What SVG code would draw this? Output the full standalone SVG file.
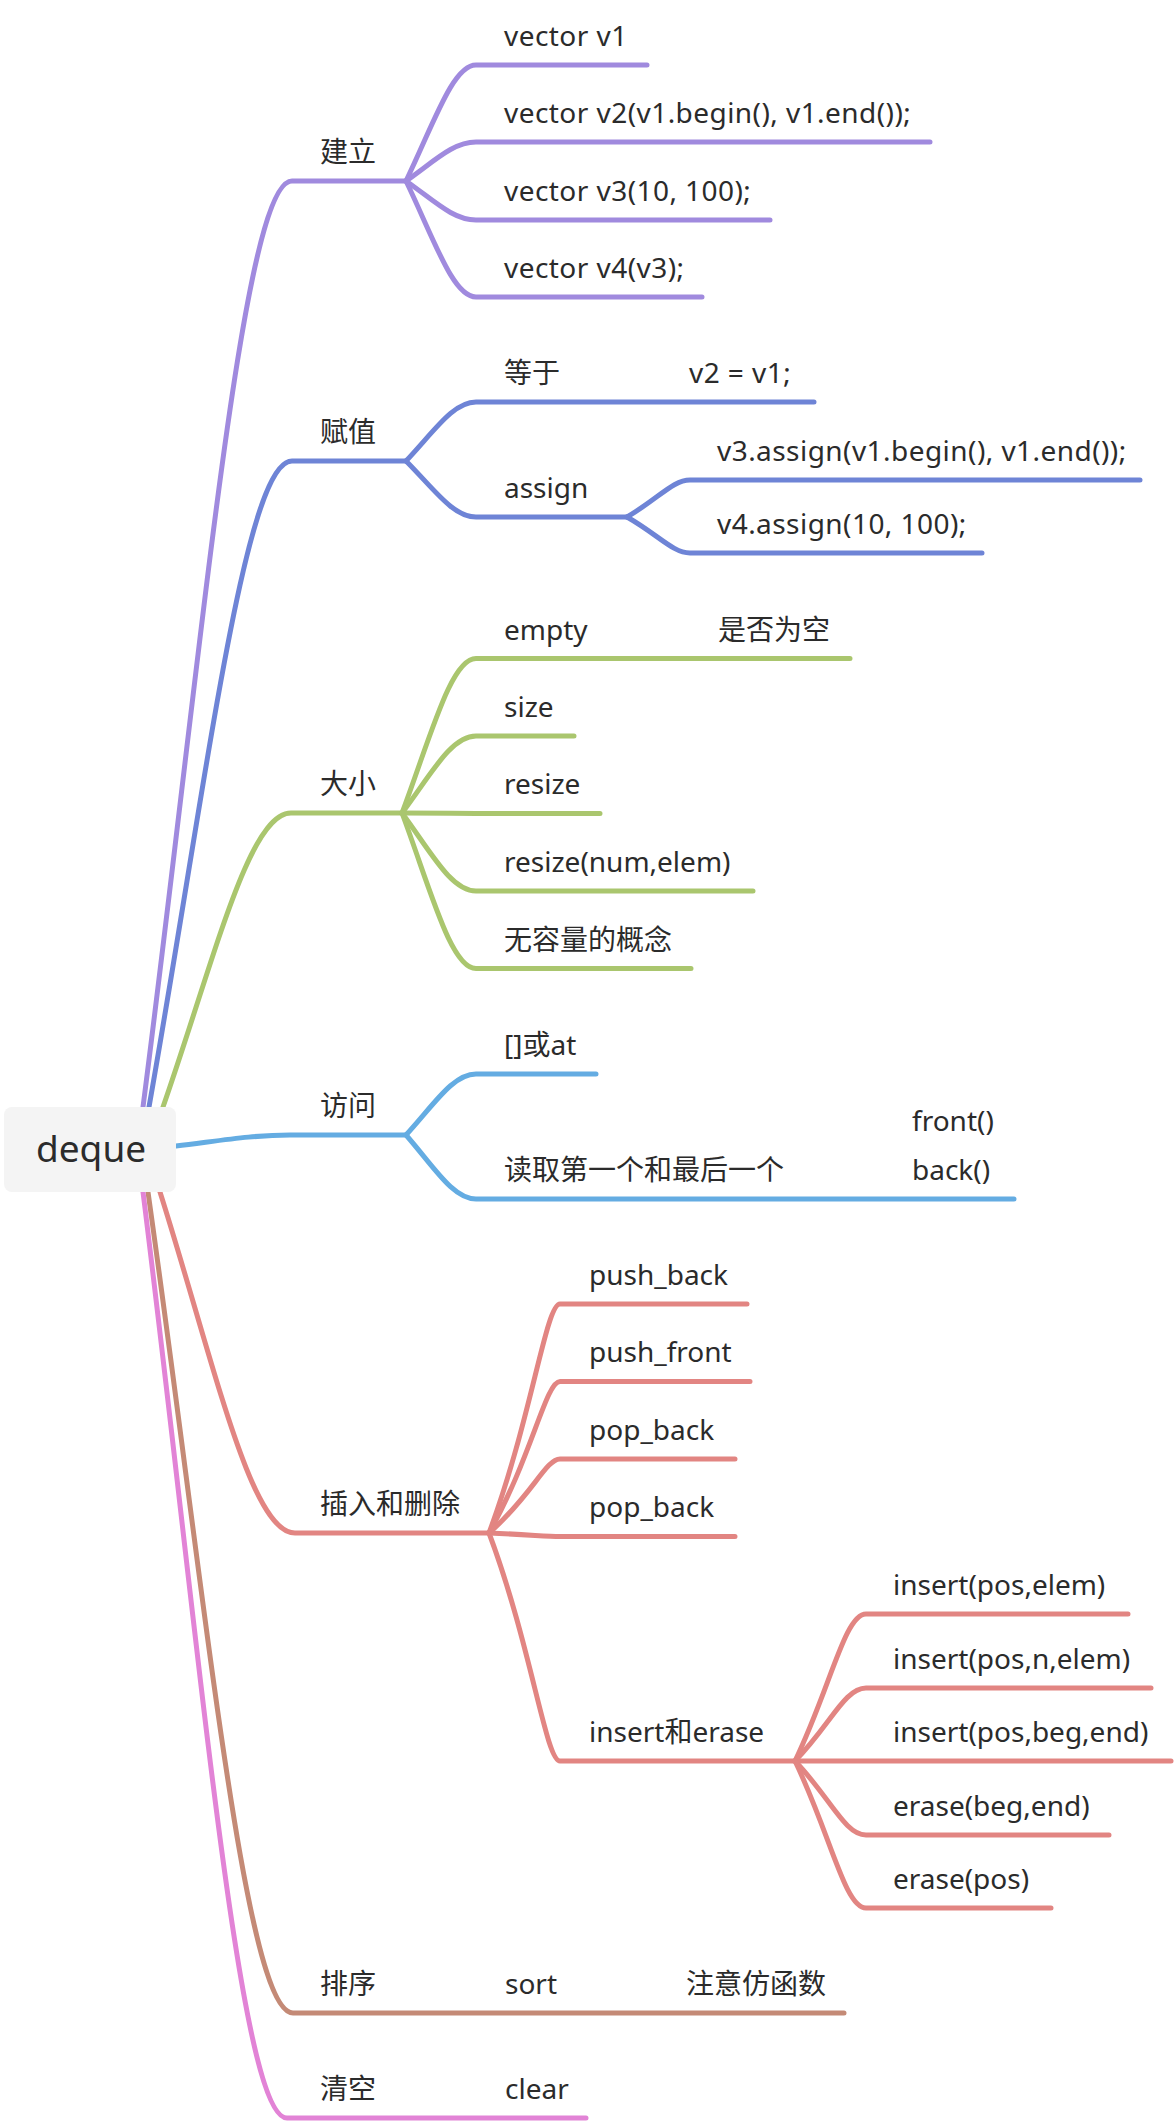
<svg xmlns="http://www.w3.org/2000/svg" width="1174" height="2126" viewBox="0 0 1174 2126">
<style>
.ln{fill:none;stroke-width:5;stroke-linecap:round;stroke-linejoin:round}
.a{stroke:#a08ade}.b{stroke:#6e84d6}.c{stroke:#aac66e}.d{stroke:#64ace2}.e{stroke:#e28582}.f{stroke:#c48a76}.g{stroke:#e283d6}
text{font-family:"Noto Sans","Noto Sans CJK SC",sans-serif;font-size:28px;fill:#2b2b2b}
.root{font-size:37px}
.ls{letter-spacing:0.45px}
</style>
<rect width="1174" height="2126" fill="#ffffff"/>
<g id="connectors">
<path class="ln a" d="M143,1107 C202.6,644 242.8,181 292,181 H406"/>
<path class="ln b" d="M149,1107 C206.2,784 244.8,461 292,461 H406"/>
<path class="ln c" d="M163,1107 C214.2,960 248.8,813 291,813 H402"/>
<path class="ln d" d="M176,1146 C221.6,1140.5 252.4,1135 290,1135 H406"/>
<path class="ln e" d="M160,1192 C214,1362.5 250.5,1533 295,1533 H489"/>
<path class="ln f" d="M148,1192 C206,1602.5 245.2,2013 293,2013 H844"/>
<path class="ln g" d="M143,1192 C200.6,1655 239.5,2118 287,2118 H586"/>

<path class="ln a" d="M406,181 C434,123 452.9,65 476,65 H647"/>
<path class="ln a" d="M406,181 C434,161.5 452.9,142 476,142 H930"/>
<path class="ln a" d="M406,181 C434,200.5 452.9,220 476,220 H770"/>
<path class="ln a" d="M406,181 C434,239 452.9,297 476,297 H702"/>

<path class="ln b" d="M406,461 C434,431.5 452.9,402 476,402 H814"/>
<path class="ln b" d="M406,461 C434,489 452.9,517 476,517 H627"/>
<path class="ln b" d="M627,517 C658.5,498.5 673.1,480 690,480 H1140"/>
<path class="ln b" d="M627,517 C658.5,535 673.1,553 690,553 H982"/>

<path class="ln c" d="M402,813 C431,735.75 451,658.5 476,658.5 H850"/>
<path class="ln c" d="M402,813 C431,774.5 451,736 476,736 H574"/>
<path class="ln c" d="M402,813 C431,813 451,813.5 476,813.5 H600"/>
<path class="ln c" d="M402,813 C431,852 451,891 476,891 H753"/>
<path class="ln c" d="M402,813 C431,890.75 451,968.5 476,968.5 H691"/>

<path class="ln d" d="M406,1135 C434,1104.5 452.9,1074 476,1074 H596"/>
<path class="ln d" d="M406,1135 C434,1167 452.9,1199 476,1199 H1014"/>

<path class="ln e" d="M489,1533 C531.6,1418.5 545.8,1304 560,1304 H747"/>
<path class="ln e" d="M489,1533 C531.6,1457.25 545.8,1381.5 560,1381.5 H750"/>
<path class="ln e" d="M489,1533 C531.6,1496 545.8,1459 560,1459 H735"/>
<path class="ln e" d="M489,1533 C531.6,1534.75 545.8,1536.5 560,1536.5 H735"/>
<path class="ln e" d="M489,1533 C531.6,1647 545.8,1761 560,1761 H795"/>

<path class="ln e" d="M795,1761 C830.5,1687.5 844.7,1614 866,1614 H1128"/>
<path class="ln e" d="M795,1761 C830.5,1724.5 844.7,1688 866,1688 H1151"/>
<path class="ln e" d="M795,1761 H1171"/>
<path class="ln e" d="M795,1761 C830.5,1798 844.7,1835 866,1835 H1109"/>
<path class="ln e" d="M795,1761 C830.5,1834.5 844.7,1908 866,1908 H1051"/>
</g>

<g id="root">
<rect x="4" y="1107" width="172" height="85" rx="8" fill="#f4f4f4"/>
<text class="root" x="36" y="1162">deque</text>
</g>

<g id="n-jianli"><text x="320" y="162">建立</text></g>
<g id="n-v1"><text class="ls" x="504" y="46">vector v1</text></g>
<g id="n-v2"><text class="ls" x="504" y="123">vector v2(v1.begin(), v1.end());</text></g>
<g id="n-v3"><text class="ls" x="504" y="201">vector v3(10, 100);</text></g>
<g id="n-v4"><text class="ls" x="504" y="278">vector v4(v3);</text></g>

<g id="n-fuzhi"><text x="320" y="442">赋值</text></g>
<g id="n-dengyu"><text x="504" y="383">等于</text></g>
<g id="n-v2eq"><text class="ls" x="689" y="383">v2 = v1;</text></g>
<g id="n-assign"><text x="504" y="498">assign</text></g>
<g id="n-v3assign"><text class="ls" x="717" y="461">v3.assign(v1.begin(), v1.end());</text></g>
<g id="n-v4assign"><text class="ls" x="717" y="534">v4.assign(10, 100);</text></g>

<g id="n-daxiao"><text x="320" y="794">大小</text></g>
<g id="n-empty"><text x="504" y="640">empty</text></g>
<g id="n-empty-note"><text x="718" y="640">是否为空</text></g>
<g id="n-size"><text x="504" y="717">size</text></g>
<g id="n-resize"><text x="504" y="794">resize</text></g>
<g id="n-resize2"><text x="504" y="872">resize(num,elem)</text></g>
<g id="n-nocap"><text x="504" y="950">无容量的概念</text></g>

<g id="n-fangwen"><text x="320" y="1116">访问</text></g>
<g id="n-at"><text x="504" y="1055">[]或at</text></g>
<g id="n-firstlast"><text x="504" y="1180">读取第一个和最后一个</text></g>
<g id="n-frontback"><text x="912" y="1131">front()</text><text x="912" y="1180">back()</text></g>

<g id="n-charu"><text x="320" y="1514">插入和删除</text></g>
<g id="n-pushback"><text x="589" y="1285">push_back</text></g>
<g id="n-pushfront"><text x="589" y="1362">push_front</text></g>
<g id="n-popback1"><text x="589" y="1440">pop_back</text></g>
<g id="n-popback2"><text x="589" y="1517">pop_back</text></g>
<g id="n-inserterase"><text x="589" y="1742">insert和erase</text></g>
<g id="n-ins1"><text x="893" y="1595">insert(pos,elem)</text></g>
<g id="n-ins2"><text x="893" y="1669">insert(pos,n,elem)</text></g>
<g id="n-ins3"><text x="893" y="1742">insert(pos,beg,end)</text></g>
<g id="n-er1"><text x="893" y="1816">erase(beg,end)</text></g>
<g id="n-er2"><text x="893" y="1889">erase(pos)</text></g>

<g id="n-paixu"><text x="320" y="1994">排序</text></g>
<g id="n-sort"><text x="505" y="1994">sort</text></g>
<g id="n-functor"><text x="686" y="1994">注意仿函数</text></g>

<g id="n-qingkong"><text x="320" y="2099">清空</text></g>
<g id="n-clear"><text x="505" y="2099">clear</text></g>
</svg>
